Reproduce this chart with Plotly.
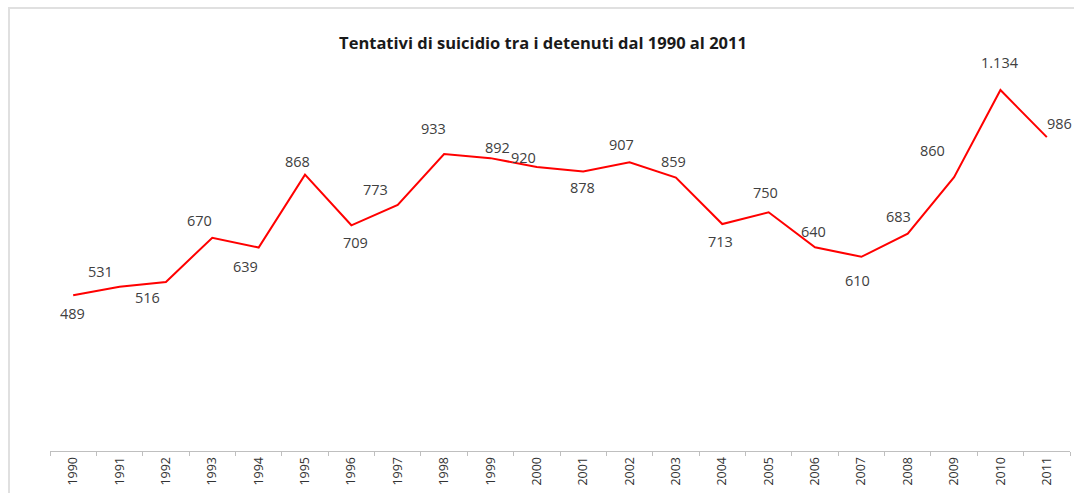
import plotly.graph_objects as go

years = [str(y) for y in range(1990, 2012)]
# values as drawn by the line
values = [489, 516, 531, 670, 639, 868, 709, 773, 933, 920, 892, 878, 907, 859,
          713, 750, 640, 610, 683, 860, 1134, 986]
# data labels as printed on the chart
labels = ["489", "531", "516", "670", "639", "868", "709", "773", "933", "892", "920",
          "878", "907", "859", "713", "750", "640", "610", "683", "860", "1.134", "986"]

# label offsets in pixels (x, y up)
x_shift = [-1, -19, -18, -13, -13, -8, 4, -22, -11, 7, -13, -1, -8, -2, -2, -3, -2, -4, -9, -22, 0, 13]
y_shift = [-18, 15, -16, 17, -19, 13, -17, 15, 26, 11, 10, -16, 18, 16, -17, 20, 16, -24, 17, 27, 28, 14]

fig = go.Figure()
fig.add_trace(go.Scatter(x=years, y=values, mode="lines",
                         line=dict(color="#ff0000", width=2), hoverinfo="x+y"))

for i, (v, t, dx, dy) in enumerate(zip(values, labels, x_shift, y_shift)):
    fig.add_annotation(x=i, y=v, text=t, showarrow=False, xshift=dx, yshift=dy,
                       font=dict(family="Open Sans", size=14.5, color="#404040"))

fig.update_layout(
    width=1074, height=493,
    margin=dict(l=50, r=4, t=69, b=42),
    paper_bgcolor="white", plot_bgcolor="white",
    showlegend=False,
    title=dict(text="<b>Tentativi di suicidio tra i detenuti dal 1990 al 2011</b>",
               x=(543 - 50) / 1020, xref="paper", xanchor="center",
               y=(493 - 43) / 493, yanchor="middle",
               font=dict(family="Open Sans", size=16.5, color="#1a1a1a")),
    xaxis=dict(type="category", showgrid=False, zeroline=False,
               range=[-0.5, len(years) - 0.5], autorange=False,
               showline=True, linecolor="#bfbfbf", linewidth=1,
               ticks="outside", tickson="boundaries", ticklen=4, tickcolor="#bfbfbf",
               tickangle=-90, tickfont=dict(family="Open Sans", size=12.5, color="#333333")),
    yaxis=dict(range=[0, 1200], visible=False, showgrid=False, zeroline=False),
    shapes=[dict(type="rect", xref="paper", yref="paper",
                 x0=(9 - 50) / 1020, x1=(1090 - 50) / 1020,
                 y0=(451 - 510) / 382, y1=(451 - 8) / 382,
                 line=dict(color="#e0e0e0", width=2), fillcolor="rgba(0,0,0,0)",
                 layer="below")],
)

fig.write_html("out.html")
